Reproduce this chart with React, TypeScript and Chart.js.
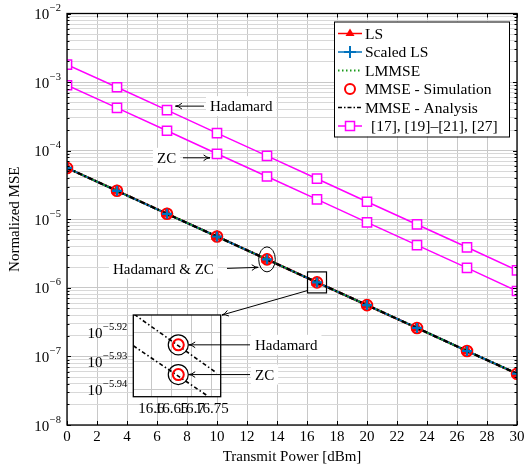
import React, { useEffect, useRef } from 'react';
import { Chart, registerables } from 'chart.js';

Chart.register(...registerables);

const FONT = '"Liberation Serif", "Times New Roman", serif';

// ---------- data ----------
const X_VALUES = [0, 3.333, 6.667, 10, 13.333, 16.667, 20, 23.333, 26.667, 30];
const LS = [5.6e-5, 2.6e-5, 1.2e-5, 5.6e-6, 2.6e-6, 1.2e-6, 5.6e-7, 2.6e-7, 1.2e-7, 5.6e-8];
const SCALED_LS = [5.6e-5, 2.6e-5, 1.2e-5, 5.6e-6, 2.6e-6, 1.2e-6, 5.6e-7, 2.6e-7, 1.2e-7, 5.6e-8];
const LMMSE = [5.6e-5, 2.6e-5, 1.2e-5, 5.6e-6, 2.6e-6, 1.2e-6, 5.6e-7, 2.6e-7, 1.2e-7, 5.6e-8];
const MMSE_SIM = [5.6e-5, 2.6e-5, 1.2e-5, 5.6e-6, 2.6e-6, 1.2e-6, 5.6e-7, 2.6e-7, 1.2e-7, 5.6e-8];
const MMSE_ANALYSIS = [5.6e-5, 2.6e-5, 1.2e-5, 5.6e-6, 2.6e-6, 1.2e-6, 5.6e-7, 2.6e-7, 1.2e-7, 5.6e-8];
const REF_HADAMARD = [1.8e-3, 8.4e-4, 3.9e-4, 1.8e-4, 8.4e-5, 3.9e-5, 1.8e-5, 8.4e-6, 3.9e-6, 1.8e-6];
const REF_ZC = [9.0e-4, 4.2e-4, 1.95e-4, 9.0e-5, 4.2e-5, 1.95e-5, 9.0e-6, 4.2e-6, 1.95e-6, 9.0e-7];

const X_TICKS = [0, 2, 4, 6, 8, 10, 12, 14, 16, 18, 20, 22, 24, 26, 28, 30];
const Y_EXPONENTS = [-8, -7, -6, -5, -4, -3, -2];

const LEGEND_LABELS = ['LS', 'Scaled LS', 'LMMSE', 'MMSE - Simulation', 'MMSE - Analysis', '[17], [19]–[21], [27]'];

// inset (zoom around 16.67 dBm)
const INSET_X = [16.6667, 16.6667];
const INSET_SIM = [1.1907e-6, 1.1623e-6]; // Hadamard, ZC
const INSET_AN_H_X = [16.5575, 16.762];
const INSET_AN_H_Y = [1.2205e-6, 1.1638e-6];
const INSET_AN_Z_X = [16.555, 16.7372];
const INSET_AN_Z_Y = [1.1898e-6, 1.1429e-6];
const INSET_X_TICKS = [16.6, 16.65, 16.7, 16.75];
const INSET_X_LABELS = ['16.6', '16.65', '16.7', '16.75'];
const INSET_Y_EXPONENTS = [-5.94, -5.93, -5.92];

// ---------- colours ----------
const RED = '#ff0000';
const BLUE = '#0072bd';
const GREEN = '#1a9a1a';
const MAGENTA = '#ff00ff';
const GRID = '#c8c8c8';
const GRID_MINOR = '#d8d8d8';

const pts = (xs: number[], ys: number[]) => xs.map((x, i) => ({ x, y: ys[i] }));

function arrow(ctx: CanvasRenderingContext2D, x1: number, y1: number, x2: number, y2: number) {
  ctx.save();
  ctx.strokeStyle = '#000';
  ctx.lineWidth = 1;
  ctx.beginPath();
  ctx.moveTo(x1, y1);
  ctx.lineTo(x2, y2);
  ctx.stroke();
  const a = Math.atan2(y2 - y1, x2 - x1);
  const L = 7;
  ctx.beginPath();
  ctx.moveTo(x2 - L * Math.cos(a - 0.42), y2 - L * Math.sin(a - 0.42));
  ctx.quadraticCurveTo(x2 - 3 * Math.cos(a), y2 - 3 * Math.sin(a), x2, y2);
  ctx.quadraticCurveTo(x2 - 3 * Math.cos(a), y2 - 3 * Math.sin(a), x2 - L * Math.cos(a + 0.42), y2 - L * Math.sin(a + 0.42));
  ctx.stroke();
  ctx.restore();
}

function boxedText(ctx: CanvasRenderingContext2D, text: string, x: number, yMid: number, pad = 4) {
  ctx.save();
  ctx.font = `15px ${FONT}`;
  const w = ctx.measureText(text).width;
  ctx.fillStyle = '#fff';
  ctx.fillRect(x - pad, yMid - 10, w + 2 * pad, 20);
  ctx.fillStyle = '#000';
  ctx.textAlign = 'left';
  ctx.textBaseline = 'alphabetic';
  ctx.fillText(text, x, yMid + 5);
  ctx.restore();
}

function drawPow(ctx: CanvasRenderingContext2D, expStr: string, rightX: number, y: number) {
  ctx.save();
  ctx.fillStyle = '#000';
  ctx.textBaseline = 'alphabetic';
  ctx.font = `10.5px ${FONT}`;
  const we = ctx.measureText(expStr).width;
  ctx.textAlign = 'left';
  ctx.fillText(expStr, rightX - we, y - 2.5);
  ctx.font = `15px ${FONT}`;
  ctx.textAlign = 'right';
  ctx.fillText('10', rightX - we - 0.5, y + 5.5);
  ctx.restore();
}

const isMajor = (v: number) => {
  const l = Math.log10(v);
  return Math.abs(l - Math.round(l)) < 1e-6;
};

const mainPlugin = {
  id: 'mainDecor',
  afterDraw(chart: any) {
    const ctx: CanvasRenderingContext2D = chart.ctx;
    const { left, right, top, bottom } = chart.chartArea;
    const xs = chart.scales.x;
    const ys = chart.scales.y;

    ctx.save();
    // inner tick marks
    ctx.strokeStyle = '#000';
    ctx.lineWidth = 1;
    ctx.beginPath();
    for (const t of ys.ticks) {
      const y = Math.round(ys.getPixelForValue(t.value)) + 0.5;
      const len = isMajor(t.value) ? 4 : 2.5;
      ctx.moveTo(left, y); ctx.lineTo(left + len, y);
      ctx.moveTo(right, y); ctx.lineTo(right - len, y);
    }
    for (const v of X_TICKS) {
      const x = Math.round(xs.getPixelForValue(v)) + 0.5;
      ctx.moveTo(x, bottom); ctx.lineTo(x, bottom - 4);
      ctx.moveTo(x, top); ctx.lineTo(x, top + 4);
    }
    ctx.stroke();

    // frame
    ctx.lineWidth = 1.3;
    ctx.strokeRect(left, top, right - left, bottom - top);

    // y tick labels
    for (const e of Y_EXPONENTS) {
      drawPow(ctx, '−' + Math.abs(e), 61, ys.getPixelForValue(Math.pow(10, e)));
    }
    // x tick labels
    ctx.fillStyle = '#000';
    ctx.font = `15px ${FONT}`;
    ctx.textAlign = 'center';
    ctx.textBaseline = 'alphabetic';
    for (const v of X_TICKS) ctx.fillText(String(v), xs.getPixelForValue(v), 441);
    // axis titles
    ctx.fillText('Transmit Power [dBm]', (left + right) / 2, 461);
    ctx.save();
    ctx.translate(15, (top + bottom) / 2);
    ctx.rotate(-Math.PI / 2);
    ctx.textBaseline = 'middle';
    ctx.fillText('Normalized MSE', 0, 0);
    ctx.restore();

    // annotations
    const hx = xs.getPixelForValue(X_VALUES[2]);
    const hy = ys.getPixelForValue(REF_HADAMARD[2]);
    boxedText(ctx, 'Hadamard', 210, hy - 4);
    arrow(ctx, 204, hy - 4, hx + 8.5, hy - 4);

    const zx = xs.getPixelForValue(X_VALUES[3]);
    const zy = ys.getPixelForValue(REF_ZC[3]);
    boxedText(ctx, 'ZC', 157, zy + 4);
    arrow(ctx, 183, zy + 4, zx - 7, zy + 4);

    const ex = xs.getPixelForValue(X_VALUES[4]);
    const ey = ys.getPixelForValue(MMSE_SIM[4]);
    ctx.strokeStyle = '#000';
    ctx.lineWidth = 1;
    ctx.beginPath();
    ctx.ellipse(ex, ey, 8.3, 12.5, 0, 0, Math.PI * 2);
    ctx.stroke();
    boxedText(ctx, 'Hadamard & ZC', 113, 268.5);
    arrow(ctx, 227, ey + 9, ex - 8.8, ey + 8);

    const sx = xs.getPixelForValue(X_VALUES[5]);
    const sy = ys.getPixelForValue(MMSE_SIM[5]);
    ctx.lineWidth = 1.2;
    ctx.strokeRect(sx - 9.5, sy - 10.5, 19, 21);
    arrow(ctx, sx - 9, sy + 8, 222, 315);

    // legend
    const lx = 334, ly = 21.5, lw = 175, lh = 115;
    ctx.fillStyle = '#fff';
    ctx.fillRect(lx, ly, lw, lh);
    ctx.strokeStyle = '#000';
    ctx.lineWidth = 1;
    ctx.strokeRect(lx + 0.5, ly + 0.5, lw, lh);
    const rowY = (i: number) => 33.5 + i * 18.5;
    const x0 = 338, x1 = 362, xm = 350;
    // LS
    let y = rowY(0);
    ctx.strokeStyle = RED; ctx.lineWidth = 1.5;
    ctx.beginPath(); ctx.moveTo(x0, y); ctx.lineTo(x1, y); ctx.stroke();
    ctx.fillStyle = RED;
    ctx.beginPath(); ctx.moveTo(xm, y - 5); ctx.lineTo(xm + 4.5, y + 2.5); ctx.lineTo(xm - 4.5, y + 2.5); ctx.closePath(); ctx.fill();
    // Scaled LS
    y = rowY(1);
    ctx.strokeStyle = BLUE; ctx.lineWidth = 1.5;
    ctx.beginPath(); ctx.moveTo(x0, y); ctx.lineTo(x1, y); ctx.stroke();
    ctx.lineWidth = 2;
    ctx.beginPath(); ctx.moveTo(xm, y - 6); ctx.lineTo(xm, y + 6); ctx.moveTo(xm - 6, y); ctx.lineTo(xm + 6, y); ctx.stroke();
    // LMMSE
    y = rowY(2);
    ctx.strokeStyle = GREEN; ctx.lineWidth = 1.8; ctx.setLineDash([1.5, 2.5]);
    ctx.beginPath(); ctx.moveTo(x0, y); ctx.lineTo(x1, y); ctx.stroke();
    ctx.setLineDash([]);
    // MMSE sim
    y = rowY(3);
    ctx.strokeStyle = RED; ctx.lineWidth = 2;
    ctx.beginPath(); ctx.arc(xm, y, 5, 0, Math.PI * 2); ctx.stroke();
    // MMSE analysis
    y = rowY(4);
    ctx.strokeStyle = '#000'; ctx.lineWidth = 1.5; ctx.setLineDash([4, 2, 1.5, 2]);
    ctx.beginPath(); ctx.moveTo(x0, y); ctx.lineTo(x1, y); ctx.stroke();
    ctx.setLineDash([]);
    // refs
    y = rowY(5);
    ctx.strokeStyle = MAGENTA; ctx.lineWidth = 1.5;
    ctx.beginPath(); ctx.moveTo(x0, y); ctx.lineTo(x1, y); ctx.stroke();
    ctx.fillStyle = '#fff';
    ctx.fillRect(xm - 4.5, y - 4.5, 9, 9);
    ctx.strokeRect(xm - 4.5, y - 4.5, 9, 9);

    ctx.fillStyle = '#000';
    ctx.font = `15.5px ${FONT}`;
    ctx.textAlign = 'left';
    LEGEND_LABELS.forEach((lab, i) => {
      ctx.fillText(lab, i === 5 ? 371 : 365, rowY(i) + 5);
    });
    ctx.restore();
  },
};

const insetPlugin = {
  id: 'insetDecor',
  beforeDraw(chart: any) {
    const ctx: CanvasRenderingContext2D = chart.ctx;
    const { left, right, top, bottom } = chart.chartArea;
    ctx.save();
    ctx.fillStyle = '#fff';
    ctx.fillRect(left, top, right - left, bottom - top);
    ctx.restore();
  },
  afterDraw(chart: any) {
    const ctx: CanvasRenderingContext2D = chart.ctx;
    const { left, right, top, bottom } = chart.chartArea;
    const xs = chart.scales.x;
    const ys = chart.scales.y;
    ctx.save();
    ctx.strokeStyle = '#000';
    ctx.lineWidth = 1.3;
    ctx.strokeRect(left, top, right - left, bottom - top);

    for (const e of INSET_Y_EXPONENTS) {
      drawPow(ctx, '−' + Math.abs(e).toFixed(2), left - 6, ys.getPixelForValue(Math.pow(10, e)));
    }
    ctx.fillStyle = '#000';
    ctx.font = `15px ${FONT}`;
    ctx.textAlign = 'center';
    INSET_X_TICKS.forEach((v, i) => ctx.fillText(INSET_X_LABELS[i], xs.getPixelForValue(v), 113));

    const px = xs.getPixelForValue(INSET_X[0]);
    const hy = ys.getPixelForValue(INSET_SIM[0]);
    const zy = ys.getPixelForValue(INSET_SIM[1]);
    boxedText(ctx, 'Hadamard', 185, hy);
    arrow(ctx, 180, hy, px + 10.5, hy);
    boxedText(ctx, 'ZC', 185, zy);
    arrow(ctx, 180, zy, px + 10.5, zy);
    ctx.restore();
  },
};

export default function App() {
  const mainRef = useRef<HTMLCanvasElement>(null);
  const insetRef = useRef<HTMLCanvasElement>(null);

  useEffect(() => {
    const main = new Chart(mainRef.current!, {
      type: 'line',
      data: {
        datasets: [
          {
            label: 'Scaled LS markers',
            data: pts(X_VALUES, SCALED_LS),
            showLine: false,
            pointStyle: 'cross',
            pointRadius: 5,
            pointBorderWidth: 2.2,
            pointBorderColor: BLUE,
            borderColor: BLUE,
          },
          {
            label: 'MMSE - Simulation',
            data: pts(X_VALUES, MMSE_SIM),
            showLine: false,
            pointStyle: 'circle',
            pointRadius: 5.2,
            pointBorderWidth: 2.2,
            pointBorderColor: RED,
            pointBackgroundColor: 'rgba(0,0,0,0)',
          },
          {
            label: 'MMSE - Analysis',
            data: pts(X_VALUES, MMSE_ANALYSIS),
            borderColor: '#000',
            borderWidth: 2.3,
            borderDash: [5, 2.5, 1.5, 2.5],
            pointRadius: 0,
          },
          {
            label: 'LMMSE',
            data: pts(X_VALUES, LMMSE),
            borderColor: GREEN,
            borderWidth: 2.3,
            borderDash: [1.5, 2.5],
            pointRadius: 0,
          },
          {
            label: 'Scaled LS',
            data: pts(X_VALUES, SCALED_LS),
            borderColor: BLUE,
            borderWidth: 2,
            pointRadius: 0,
          },
          {
            label: 'LS',
            data: pts(X_VALUES, LS),
            borderColor: RED,
            borderWidth: 2.3,
            pointStyle: 'triangle',
            pointRadius: 6,
            pointBorderWidth: 1,
            pointBorderColor: RED,
            pointBackgroundColor: RED,
          },
          {
            label: 'Hadamard',
            data: pts(X_VALUES, REF_HADAMARD),
            borderColor: MAGENTA,
            borderWidth: 1.5,
            pointStyle: 'rect',
            pointRadius: 6.5,
            pointBorderWidth: 1.5,
            pointBorderColor: MAGENTA,
            pointBackgroundColor: '#fff',
          },
          {
            label: 'ZC',
            data: pts(X_VALUES, REF_ZC),
            borderColor: MAGENTA,
            borderWidth: 1.5,
            pointStyle: 'rect',
            pointRadius: 6.5,
            pointBorderWidth: 1.5,
            pointBorderColor: MAGENTA,
            pointBackgroundColor: '#fff',
          },
        ],
      },
      options: {
        responsive: false,
        animation: false,
        events: [],
        layout: { padding: { left: 67, top: 13.5, right: 6, bottom: 41 } },
        plugins: { legend: { display: false }, tooltip: { enabled: false } },
        scales: {
          x: {
            type: 'linear',
            min: 0,
            max: 30,
            afterBuildTicks: (s: any) => { s.ticks = X_TICKS.map((v) => ({ value: v })); },
            ticks: { display: false },
            grid: { color: GRID, lineWidth: 1, drawTicks: false },
            border: { display: false },
          },
          y: {
            type: 'logarithmic',
            min: 1e-8,
            max: 1e-2,
            afterBuildTicks: (s: any) => {
              const t: any[] = [];
              for (let e = Y_EXPONENTS[0]; e < Y_EXPONENTS[Y_EXPONENTS.length - 1]; e++) {
                for (let m = 1; m <= 9; m++) t.push({ value: Number((m * Math.pow(10, e)).toPrecision(3)) });
              }
              t.push({ value: Math.pow(10, Y_EXPONENTS[Y_EXPONENTS.length - 1]) });
              s.ticks = t;
            },
            ticks: { display: false },
            grid: {
              color: (c: any) => (c.tick && isMajor(c.tick.value) ? GRID : GRID_MINOR),
              lineWidth: 1,
              drawTicks: false,
            },
            border: { display: false },
          },
        },
      },
      plugins: [mainPlugin],
    } as any);

    const inset = new Chart(insetRef.current!, {
      type: 'line',
      data: {
        datasets: [
          {
            label: 'sim',
            data: pts(INSET_X, INSET_SIM),
            showLine: false,
            pointStyle: 'circle',
            pointRadius: 5.5,
            pointBorderWidth: 2,
            pointBorderColor: RED,
            pointBackgroundColor: 'rgba(0,0,0,0)',
          },
          {
            label: 'highlight',
            data: pts(INSET_X, INSET_SIM),
            showLine: false,
            pointStyle: 'circle',
            pointRadius: 10,
            pointBorderWidth: 1.2,
            pointBorderColor: '#000',
            pointBackgroundColor: 'rgba(0,0,0,0)',
          },
          {
            label: 'an H',
            data: pts(INSET_AN_H_X, INSET_AN_H_Y),
            borderColor: '#000',
            borderWidth: 1.6,
            borderDash: [4, 2.5, 1.5, 2.5],
            pointRadius: 0,
          },
          {
            label: 'an Z',
            data: pts(INSET_AN_Z_X, INSET_AN_Z_Y),
            borderColor: '#000',
            borderWidth: 1.6,
            borderDash: [4, 2.5, 1.5, 2.5],
            pointRadius: 0,
          },
        ],
      },
      options: {
        responsive: false,
        animation: false,
        events: [],
        layout: { padding: { left: 63.3, top: 15, right: 109.3, bottom: 28.3 } },
        plugins: { legend: { display: false }, tooltip: { enabled: false } },
        scales: {
          x: {
            type: 'linear',
            min: 16.555,
            max: 16.772,
            afterBuildTicks: (s: any) => { s.ticks = INSET_X_TICKS.map((v) => ({ value: v })); },
            ticks: { display: false },
            grid: { color: GRID, lineWidth: 1, drawTicks: false },
            border: { display: false },
          },
          y: {
            type: 'logarithmic',
            min: 1.1416e-6,
            max: 1.2199e-6,
            afterBuildTicks: (s: any) => { s.ticks = INSET_Y_EXPONENTS.map((e) => ({ value: Math.pow(10, e) })); },
            ticks: { display: false },
            grid: { color: GRID, lineWidth: 1, drawTicks: false },
            border: { display: false },
          },
        },
      },
      plugins: [insetPlugin],
    } as any);

    return () => {
      main.destroy();
      inset.destroy();
    };
  }, []);

  return (
    <div style={{ position: 'absolute', left: 0, top: 0, width: 525, height: 466, background: '#fff' }}>
      <canvas ref={mainRef} width={525} height={466} style={{ position: 'absolute', left: 0, top: 0, display: 'block' }} />
      <canvas ref={insetRef} width={260} height={125} style={{ position: 'absolute', left: 70, top: 300, display: 'block' }} />
    </div>
  );
}
